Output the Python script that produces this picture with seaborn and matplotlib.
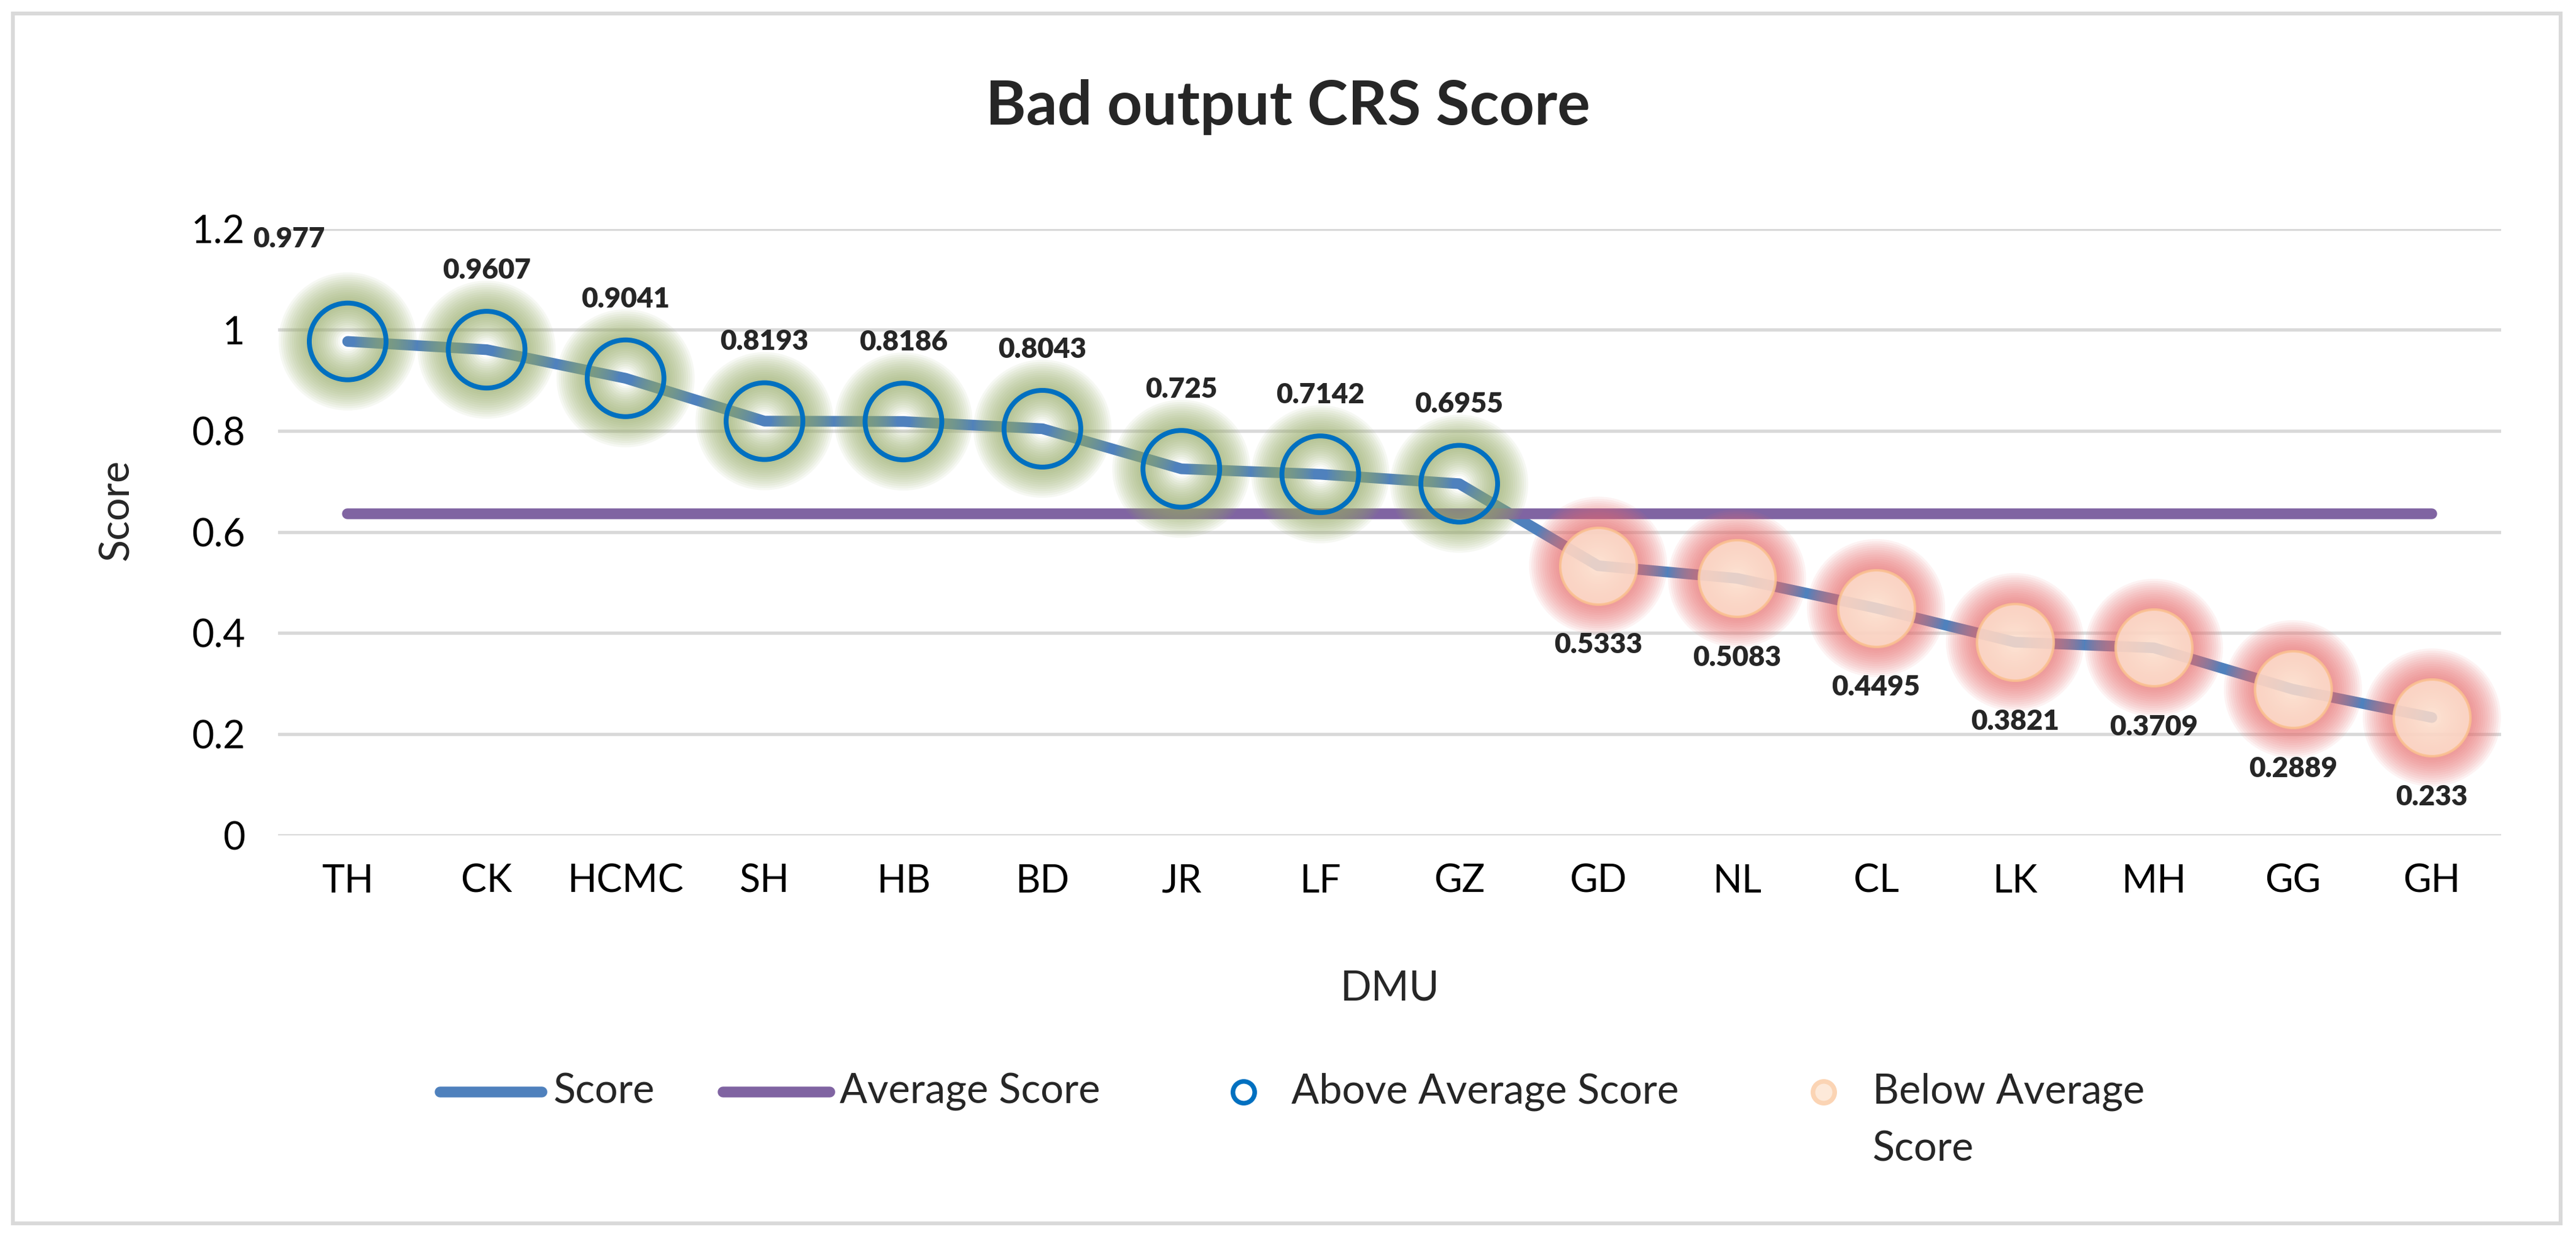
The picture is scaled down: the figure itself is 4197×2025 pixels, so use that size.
import numpy as np
import pandas as pd
import matplotlib
matplotlib.use("Agg")
import matplotlib.pyplot as plt
from matplotlib.lines import Line2D
from matplotlib.patches import Rectangle
import seaborn as sns

# data
dmu = ["TH", "CK", "HCMC", "SH", "HB", "BD", "JR", "LF",
       "GZ", "GD", "NL", "CL", "LK", "MH", "GG", "GH"]
scores = [0.977, 0.9607, 0.9041, 0.8193, 0.8186, 0.8043, 0.725, 0.7142,
          0.6955, 0.5333, 0.5083, 0.4495, 0.3821, 0.3709, 0.2889, 0.233]
average_score = 0.6365
y_ticks = [0, 0.2, 0.4, 0.6, 0.8, 1, 1.2]
y_tick_labels = ["0", "0.2", "0.4", "0.6", "0.8", "1", "1.2"]

SCORE_BLUE = "#4F81BD"
AVG_PURPLE = "#8064A2"
RING_BLUE = "#0070C0"
PEACH = "#FCDCCA"
PEACH_EDGE = "#FAC090"

sns.set_theme(style="white")
plt.rcParams["font.family"] = ["Lato", "DejaVu Sans"]

df = pd.DataFrame({
    "pos": np.arange(len(dmu)),
    "DMU": dmu,
    "Score": scores,
    "Average": [average_score] * len(dmu),
})
df["above"] = df["Score"] >= average_score
above = df[df["above"]]
below = df[~df["above"]]

fig = plt.figure(figsize=(4197 / 300, 2025 / 300), dpi=300)
ax = fig.add_axes([0.108, 0.328, 0.863, 0.488])

ax.set_xlim(-0.5, len(dmu) - 0.5)
ax.set_ylim(0, 1.2)
ax.set_yticks(y_ticks, y_tick_labels)
ax.set_xticks(df["pos"], dmu)
ax.yaxis.grid(True, color="#D9D9D9", linewidth=1.3)
ax.set_axisbelow(True)
for s in ax.spines.values():
    s.set_visible(False)
ax.tick_params(axis="both", length=0, labelsize=15, colors="black")
ax.tick_params(axis="x", pad=11)
ax.tick_params(axis="y", pad=13)

# lines
sns.lineplot(data=df, x="pos", y="Score", color=SCORE_BLUE, linewidth=4.2,
             sort=False, ax=ax, zorder=2, solid_capstyle="round")
sns.lineplot(data=df, x="pos", y="Average", color=AVG_PURPLE, linewidth=4.2,
             sort=False, ax=ax, zorder=2, solid_capstyle="round")


def glow(x, y, color, size, width, steps=14, alpha=0.08):
    # soft glow built from stacked translucent rings
    for i in range(steps):
        lw = width * (i + 1) / steps
        ax.scatter(x, y, s=size ** 2, facecolors="none", edgecolors=color,
                   linewidths=lw, alpha=alpha, zorder=3)


glow(above["pos"], above["Score"], "#98AE68", 30, 24)
glow(below["pos"], below["Score"], "#EC7070", 30, 24)

# markers
ax.scatter(above["pos"], above["Score"], s=30 ** 2, facecolors="none",
           edgecolors=RING_BLUE, linewidths=1.9, zorder=4)
sns.scatterplot(data=below, x="pos", y="Score", s=30 ** 2, color=PEACH,
                edgecolor=PEACH_EDGE, linewidth=1, alpha=0.87, ax=ax, zorder=4)

# data labels
for i, row in df.iterrows():
    if row["above"]:
        offset = (-23, 40) if i == 0 else (0, 31)
    else:
        offset = (0, -31)
    ax.annotate(f"{row['Score']}", (row["pos"], row["Score"]),
                xytext=offset, textcoords="offset points", ha="center",
                va="center", fontsize=11, fontweight="heavy", zorder=5)

ax.set_xlabel("DMU", fontsize=16)
ax.set_ylabel("Score", fontsize=16)
ax.xaxis.set_label_coords(0.5, -0.221)
ax.yaxis.set_label_coords(-0.064, 0.537)

fig.text(0.5, 0.914, "Bad output CRS Score", ha="center", va="center",
         fontsize=24, fontweight="bold")

# legend laid out by hand so the wrapped label keeps its first line level
leg_y = 0.1215
fig.add_artist(Line2D([0.1709, 0.2105], [leg_y, leg_y], color=SCORE_BLUE,
                      lw=4.2, transform=fig.transFigure))
fig.text(0.2149, leg_y, "Score", ha="left", va="center", fontsize=16)
fig.add_artist(Line2D([0.2806, 0.3221], [leg_y, leg_y], color=AVG_PURPLE,
                      lw=4.2, transform=fig.transFigure))
fig.text(0.3259, leg_y, "Average Score", ha="left", va="center", fontsize=16)
fig.add_artist(Line2D([0.4828], [leg_y], marker="o", ls="none", mfc="none",
                      mec=RING_BLUE, ms=8.5, mew=1.8,
                      transform=fig.transFigure))
fig.text(0.5013, leg_y, "Above Average Score", ha="left", va="center",
         fontsize=16)
fig.add_artist(Line2D([0.7079], [leg_y], marker="o", ls="none", mfc="#FDE9D9",
                      mec="#FBD4B4", ms=8.5, mew=1.8,
                      transform=fig.transFigure))
fig.text(0.7270, leg_y, "Below Average", ha="left", va="center", fontsize=16)
fig.text(0.7270, 0.0753, "Score", ha="left", va="center", fontsize=16)

fig.add_artist(Rectangle((0.005, 0.016), 0.989, 0.973,
                         transform=fig.transFigure, fill=False,
                         edgecolor="#D9D9D9", linewidth=1.5))

fig.savefig("out.png", dpi=300)
